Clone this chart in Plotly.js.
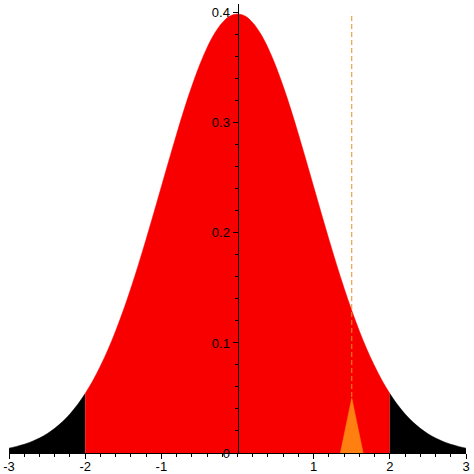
<!DOCTYPE html>
<html><head><meta charset="utf-8">
<script src="https://cdn.plot.ly/plotly-3.0.1.min.js"></script>
<style>html,body{margin:0;padding:0;background:#fff}</style>
</head><body><div id="chart" style="width:474px;height:474px"></div>
<script>
// normal density read at steps of 0.1
const xPos = [0,0.1,0.2,0.3,0.4,0.5,0.6,0.7,0.8,0.9,1.0,1.1,1.2,1.3,1.4,1.5,1.6,1.7,1.8,1.9,2.0,2.1,2.2,2.3,2.4,2.5,2.6,2.7,2.8,2.9,3.0];
const yPos = [0.3989,0.3970,0.3910,0.3814,0.3683,0.3521,0.3332,0.3123,0.2897,0.2661,0.2420,0.2179,0.1942,0.1714,0.1497,0.1295,0.1109,0.0940,0.0790,0.0656,0.0540,0.0440,0.0355,0.0283,0.0224,0.0175,0.0136,0.0104,0.0079,0.0060,0.0044];
const markerX = [1.5, 1.5];
const markerY = [0, 0.4];
const triangleX = [1.35, 1.5, 1.65, 1.35];
const triangleY = [0, 0.05, 0, 0];
const xTickVals = [-3,-2,-1,1,2,3];
const xTickText = ['-3','-2','-1','1','2','3'];

// build full curve (symmetric)
const xs = [], ys = [];
for (let i = xPos.length - 1; i > 0; i--) { xs.push(-xPos[i]); ys.push(yPos[i]); }
for (let i = 0; i < xPos.length; i++) { xs.push(xPos[i]); ys.push(yPos[i]); }
function slice(a, b) {
  const X = [], Y = [];
  xs.forEach((x, i) => { if (x >= a - 1e-9 && x <= b + 1e-9) { X.push(x); Y.push(ys[i]); } });
  return {X, Y};
}
const L = slice(-3, -2), M = slice(-2, 2), R = slice(2, 3);
const area = (s, c) => ({x: s.X, y: s.Y, type: 'scatter', mode: 'lines', fill: 'tozeroy',
  fillcolor: c, line: {color: c, width: 0.5, shape: 'spline'}, hoverinfo: 'skip', showlegend: false});
const traces = [
  area(L, '#000000'), area(M, '#f80000'), area(R, '#000000'),
  {x: markerX, y: markerY, type: 'scatter', mode: 'lines', line: {color: '#e8901c', width: 1, dash: '5px,3px'}, showlegend: false},
  {x: triangleX, y: triangleY, type: 'scatter', mode: 'lines', fill: 'toself', fillcolor: '#ff8010', line: {color: '#ff8010', width: 0.5}, showlegend: false}
];
const layout = {
  width: 474, height: 474,
  margin: {l: 9, r: 8, t: 4, b: 21},
  paper_bgcolor: '#fff', plot_bgcolor: '#fff',
  font: {family: 'Liberation Sans, Arial, sans-serif', size: 13, color: '#000'},
  showlegend: false,
  xaxis: {range: [-3, 3], showgrid: false, zeroline: false, showline: true, linecolor: '#000', linewidth: 1,
    ticks: 'outside', ticklen: 5, tickcolor: '#000', tickvals: xTickVals, ticktext: xTickText,
    ticklabelstandoff: -4, automargin: false,
    minor: {dtick: 0.2, ticks: 'outside', ticklen: 3, tickcolor: '#000', showgrid: false},
    layer: 'above traces', fixedrange: true},
  yaxis: {range: [0, 0.408], anchor: 'free', position: 0.5, side: 'left', showgrid: false, zeroline: false,
    showline: true, linecolor: '#000', linewidth: 1.5, ticks: 'outside', ticklen: 5, tickcolor: '#000',
    dtick: 0.1, tick0: 0, automargin: false,
    minor: {dtick: 0.02, ticks: 'outside', ticklen: 3, tickcolor: '#000', showgrid: false},
    layer: 'above traces', fixedrange: true}
};
Plotly.newPlot('chart', traces, layout, {displayModeBar: false, staticPlot: true});
</script></body></html>
